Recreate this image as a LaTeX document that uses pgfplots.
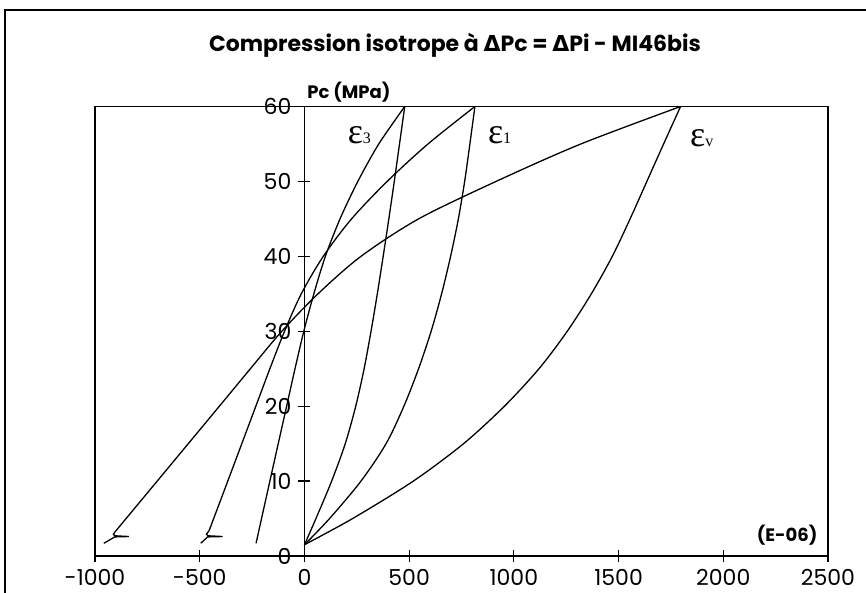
\documentclass[border=0pt]{standalone}
\usepackage{fontspec}
\setmainfont{Poppins}
\newfontfamily\grk{Liberation Serif}
\newfontfamily\sym{DejaVu Sans}
\usepackage{pgfplots}
\pgfplotsset{compat=1.18}

\pgfplotstableread{
x P
0 1.5
55 5
130 10
195 15
245 20
285 25
318 30
348 35
376 40
403 45
429 50
454 55
479 60
}\eLoadThree
\pgfplotstableread{
x P
0 1.5
120 5
270 10
390 15
475 20
545 25
605 30
655 35
698 40
735 45
765 50
790 55
814 60
}\eLoadOne
\pgfplotstableread{
x P
0 1.5
230 5
520 10
760 15
955 20
1120 25
1255 30
1370 35
1470 40
1555 45
1635 50
1715 55
1796 60
}\eLoadV
\pgfplotstableread{
x P
479 60
355 55
255 50
170 45
100 40
45 35
-3 30
-45 25
-85 20
-165 10
-231 1.7
}\eUnThree
\pgfplotstableread{
x P
814 60
590 55
395 50
225 45
90 40
-15 35
-95 30
-165 25
-232 20
-366 10
-455 3.4
}\eUnOne
\pgfplotstableread{
x P
-455 3.4
-468 2.9
-460 2.7
-391 2.6
-462 2.55
-495 1.7
}\eHookOne
\pgfplotstableread{
x P
1796 60
1320 55
915 50
545 45
270 40
65 35
-108 30
-258 25
-406 20
-703 10
-905 3.2
}\eUnV
\pgfplotstableread{
x P
-905 3.2
-912 2.9
-905 2.7
-838 2.6
-905 2.55
-958 1.7
}\eHookV

\begin{document}
\begin{tikzpicture}
\begin{scope}[x=0.5pt,y=-0.5pt]
\useasboundingbox (0,0) rectangle (866,593);
\draw[line width=0.6pt] (5,600) -- (5,10) -- (870,10);
\node[font=\bfseries\fontsize{11}{13}\selectfont] at (455,45) {Compression isotrope à {\sym Δ}Pc = {\sym Δ}Pi - MI46bis};
\end{scope}
\begin{axis}[at={(47.5pt,-278pt)}, anchor=south west, scale only axis,
 width=366.5pt, height=224.75pt,
 xmin=-1000, xmax=2500, ymin=0, ymax=60,
 axis lines=middle, axis line style={-, line width=0.7pt},
 xtick={-1000,-500,...,2500}, xticklabels={-1000,-500,0,500,1000,1500,2000,2500},
 ytick={0,10,...,60}, yticklabels={0,10,20,30,40,50,60},
 tick align=center, major tick length=6pt, tick style={line width=0.6pt, black},
 hide obscured x ticks=false, hide obscured y ticks=false,
 tick label style={font=\fontsize{11}{13}\selectfont},
 clip=false,
]
\draw[line width=0.6pt] (rel axis cs:0,0) rectangle (rel axis cs:1,1);
\addplot[black, line width=0.65pt, smooth] table {\eLoadThree};
\addplot[black, line width=0.65pt, smooth] table {\eLoadOne};
\addplot[black, line width=0.65pt, smooth] table {\eLoadV};
\addplot[black, line width=0.65pt, smooth] table {\eUnThree};
\addplot[black, line width=0.65pt, smooth] table {\eUnOne};
\addplot[black, line width=0.65pt] table {\eHookOne};
\addplot[black, line width=0.65pt, smooth] table {\eUnV};
\addplot[black, line width=0.65pt] table {\eHookV};
\node[anchor=base west, inner sep=0pt] at (axis cs:205,55.0) {\grk\fontsize{18}{18}\selectfont ε\fontsize{8}{8}\selectfont 3};
\node[anchor=base west, inner sep=0pt] at (axis cs:875,55.0) {\grk\fontsize{18}{18}\selectfont ε\fontsize{8}{8}\selectfont 1};
\node[anchor=base west, inner sep=0pt] at (axis cs:1840,54.6) {\grk\fontsize{18}{18}\selectfont ε\fontsize{8}{8}\selectfont v};
\node[anchor=west, inner sep=0pt, font=\bfseries\fontsize{9}{10}\selectfont] at (axis cs:12,61.9) {Pc (MPa)};
\node[inner sep=0pt, font=\bfseries\fontsize{9}{10}\selectfont] at (axis cs:2305,2.8) {(E-06)};
\end{axis}
\end{tikzpicture}
\end{document}
